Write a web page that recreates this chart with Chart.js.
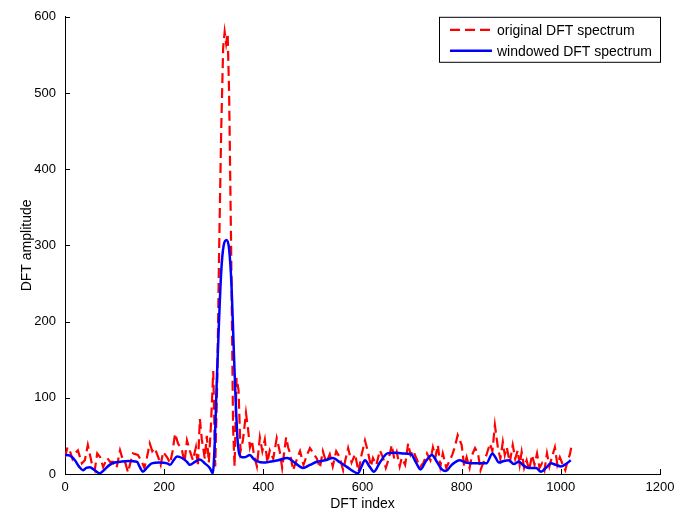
<!DOCTYPE html>
<html>
<head>
<meta charset="utf-8">
<script src="https://cdn.jsdelivr.net/npm/chart.js@4.4.0/dist/chart.umd.min.js"></script>
<style>
body{margin:0;background:#fff;}
#wrap{width:695px;height:516px;}
</style>
</head>
<body>
<div id="wrap"><canvas id="chart" width="695" height="516"></canvas></div>
<script>
// tick labels
const xTicks=[0,200,400,600,800,1000,1200];
const yTicks=[0,100,200,300,400,500,600];

// original DFT spectrum (red dashed)
const origIdx=[0,5,10,15,20,26,34,40,46,54,60,65,71,77,85,91,97,104,111,117,122,127,132,137,147,155,160,165,171,176,181,188,193,198,206,212,217,222,228,236,241,246,252,258,264,268,272,276,282,286,290,294,299,303,307,311,315,319,322,325,328,331,335,339,342,346,350,354,359,365,369,373,377,381,387,393,398,403,408,413,420,427,433,438,446,450,454,460,468,474,481,488,494,500,508,514,520,527,534,540,547,554,561,566,571,578,585,592,598,605,611,617,621,628,635,641,647,653,659,664,669,675,679,686,692,697,702,709,716,723,730,737,742,747,752,757,762,769,776,781,786,792,800,805,810,816,821,827,833,838,843,850,857,862,867,873,878,883,887,891,897,903,908,913,917,921,926,931,936,942,947,952,957,962,967,972,977,982,988,993,998,1004,1009,1014,1018,1022];
const origAmp=[22,35,30,20,27,31,14,18,38,14,5,27,22,9,21,16,16,8,31,18,14,2,15,27,25,16,8,21,40,30,34,22,12,29,22,14,30,53,40,31,15,44,30,18,35,10,72,45,20,50,15,60,135,10,120,300,450,560,580,565,578,500,300,60,10,126,110,30,45,80,60,35,44,25,10,48,30,45,15,31,20,47,30,8,48,35,27,5,20,30,12,25,34,28,20,8,30,15,26,10,30,22,5,20,34,15,26,3,25,44,29,10,21,12,31,22,8,20,38,20,29,10,21,12,40,25,31,20,9,15,27,18,35,22,38,10,27,8,18,25,35,51,38,10,22,8,25,34,27,5,14,25,40,30,64,35,20,42,25,35,15,38,20,31,12,29,8,18,5,25,12,27,8,14,5,27,10,22,35,12,22,12,5,18,25,38];

// windowed DFT spectrum (blue solid)
const winIdx=[0,10,20,28,36,43,50,60,70,80,90,100,111,128,145,151,157,165,175,190,206,212,219,226,236,246,252,262,272,282,292,298,302,306,310,315,320,326,331,336,340,344,348,352,357,363,373,380,387,400,413,430,448,465,480,494,508,525,540,555,569,580,591,598,605,614,623,635,650,665,680,698,708,717,728,740,750,760,768,780,796,808,820,835,850,862,868,875,885,895,905,915,925,935,950,960,970,980,990,1000,1010,1020];
const winAmp=[25,24,18,10,5,8,9,5,1,6,12,15,16,17,16,9,3,8,14,15,14,12,18,23,21,16,12,16,19,14,8,1,40,120,190,265,300,307,295,245,170,100,45,25,22,22,25,20,17,15,16,18,21,14,8,12,16,18,21,15,9,4,1,10,18,10,3,15,27,28,27,26,15,6,17,25,16,6,4,12,18,15,14,14,14,27,22,15,17,18,13,16,11,8,8,3,8,14,12,10,13,18];

const labels=["original DFT spectrum","windowed DFT spectrum"];
const FONT="'Liberation Sans', Arial, sans-serif";

// inward tick marks like matlab
const tickPlugin={
id:"innerTicks",
afterDraw(c){
const ctx=c.ctx, a=c.chartArea, xs=c.scales.x, ys=c.scales.y;
ctx.save();
ctx.strokeStyle="#000";
ctx.lineWidth=1;
ctx.beginPath();
xTicks.forEach(v=>{
const p=Math.round(xs.getPixelForValue(v))+0.5;
ctx.moveTo(p,a.bottom);ctx.lineTo(p,a.bottom-5);
});
yTicks.forEach(v=>{
const p=Math.round(ys.getPixelForValue(v))+0.5;
ctx.moveTo(a.left,p);ctx.lineTo(a.left+5,p);
});
ctx.stroke();
ctx.restore();
}
};

// legend box in the top right corner
const legendPlugin={
id:"boxLegend",
afterDraw(c){
const ctx=c.ctx, a=c.chartArea;
const w=222, h=46;
const x0=a.right-w+1, y0=a.top;
ctx.save();
ctx.fillStyle="#fff";
ctx.fillRect(x0,y0,w,h);
ctx.strokeStyle="#000";
ctx.lineWidth=1;
ctx.strokeRect(x0+0.5,y0+0.5,w-1,h-1);
c.data.datasets.forEach((ds,i)=>{
const y=y0+13+i*21;
ctx.beginPath();
ctx.strokeStyle=ds.borderColor;
ctx.lineWidth=ds.borderWidth;
ctx.setLineDash(ds.borderDash||[]);
ctx.moveTo(x0+11,y);ctx.lineTo(x0+53,y);
ctx.stroke();
ctx.setLineDash([]);
ctx.fillStyle="#000";
ctx.font="14px "+FONT;
ctx.textBaseline="middle";
ctx.textAlign="left";
ctx.fillText(ds.label,x0+58,y+1);
});
ctx.restore();
}
};

const ctx=document.getElementById("chart").getContext("2d");
new Chart(ctx,{
type:"line",
data:{
datasets:[{
label:labels[0],
data:origIdx.map((v,i)=>({x:v,y:origAmp[i]})),
borderColor:"#ff0000",
borderWidth:2.2,
borderDash:[10,5],
pointRadius:0,
tension:0,
order:1
},{
label:labels[1],
data:winIdx.map((v,i)=>({x:v,y:winAmp[i]})),
borderColor:"#0000ff",
borderWidth:2.5,
pointRadius:0,
cubicInterpolationMode:"monotone",
order:0
}]
},
plugins:[tickPlugin,legendPlugin],
options:{
responsive:false,
animation:false,
devicePixelRatio:1,
layout:{padding:{left:0,right:35,top:12,bottom:0}},
plugins:{legend:{display:false},tooltip:{enabled:false}},
scales:{
x:{
type:"linear",min:0,max:1200,
afterBuildTicks:s=>{s.ticks=xTicks.map(v=>({value:v}));},
afterFit:s=>{s.height=42;},
grid:{display:true,drawOnChartArea:false,drawTicks:false},
border:{display:true,color:"#000",width:1},
ticks:{color:"#000",padding:6,maxRotation:0,font:{family:FONT,size:13},callback:v=>String(v)},
title:{display:true,text:"DFT index",color:"#000",padding:{top:0,bottom:3},font:{family:FONT,size:14}}
},
y:{
type:"linear",min:0,max:600,
afterBuildTicks:s=>{s.ticks=yTicks.map(v=>({value:v}));},
afterFit:s=>{s.width=65;},
grid:{display:true,drawOnChartArea:false,drawTicks:false},
border:{display:true,color:"#000",width:1},
ticks:{color:"#000",padding:9,font:{family:FONT,size:13},callback:v=>String(v)},
title:{display:true,text:"DFT amplitude",color:"#000",padding:{top:19,bottom:0},font:{family:FONT,size:14}}
}
}
}
});
</script>
</body>
</html>
